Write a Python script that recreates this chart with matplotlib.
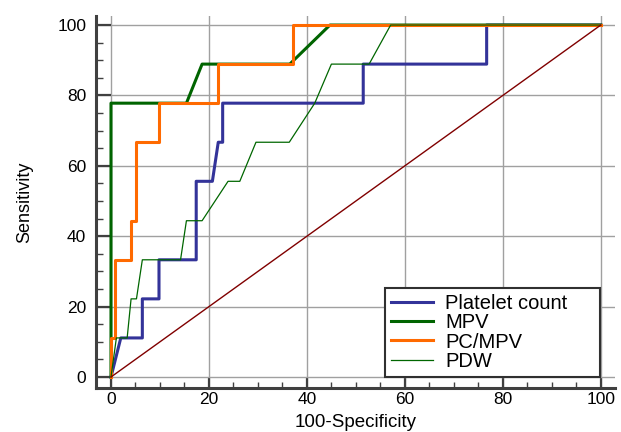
import matplotlib
matplotlib.use("Agg")
import matplotlib.pyplot as plt
from matplotlib.ticker import MultipleLocator

# =============================================================================
# ROC curve data
# =============================================================================

platelet_x = [0, 2.0, 6.4, 6.4, 9.8, 9.8, 17.4, 17.4, 20.7, 21.9, 22.8, 22.8,
              51.5, 51.5, 76.7, 76.7, 100]
platelet_y = [0, 11.1, 11.1, 22.2, 22.2, 33.3, 33.3, 55.6, 55.6, 66.7, 66.7, 77.8,
              77.8, 88.9, 88.9, 100, 100]

mpv_x = [0, 0, 15.4, 18.6, 36.5, 44.7, 100]
mpv_y = [0, 77.8, 77.8, 88.9, 88.9, 100, 100]

pcmpv_x = [0, 0, 0.9, 0.9, 4.1, 4.1, 5.2, 5.2, 9.8, 9.8, 21.9, 21.9, 37.2, 37.2, 100]
pcmpv_y = [0, 11.1, 11.1, 33.3, 33.3, 44.4, 44.4, 66.7, 66.7, 77.8, 77.8, 88.9, 88.9, 100, 100]

pdw_x = [0, 1.1, 3.3, 4.1, 5.2, 6.4, 14.2, 15.4, 18.6, 23.9, 26.3, 29.6,
         36.4, 41.6, 45.0, 52.7, 57.1, 100]
pdw_y = [0, 11.1, 11.1, 22.2, 22.2, 33.3, 33.3, 44.4, 44.4, 55.6, 55.6, 66.7,
         66.7, 77.8, 88.9, 88.9, 100, 100]

diag = [0, 100]

ticks = [0, 20, 40, 60, 80, 100]

# =============================================================================
# Figure
# =============================================================================

plt.rcParams['font.family'] = ['Liberation Sans', 'DejaVu Sans']

fig = plt.figure(figsize=(6.21, 4.32), dpi=100)
ax = fig.add_axes([0.1546, 0.1019, 0.8357, 0.861])

ax.plot(platelet_x, platelet_y, color='#333399', linewidth=2.2, label='Platelet count')
ax.plot(mpv_x, mpv_y, color='#006400', linewidth=2.2, label='MPV')
ax.plot(pcmpv_x, pcmpv_y, color='#ff6a00', linewidth=2.2, label='PC/MPV')
ax.plot(pdw_x, pdw_y, color='#006600', linewidth=0.9, label='PDW')
ax.plot(diag, diag, color='#800000', linewidth=1.0)

ax.set_xlim(-3.06, 102.9)
ax.set_ylim(-3.12, 102.56)

ax.set_xticks(ticks)
ax.set_yticks(ticks)
ax.xaxis.set_minor_locator(MultipleLocator(5))
ax.yaxis.set_minor_locator(MultipleLocator(5))

ax.tick_params(axis='x', which='major', direction='in', length=8, width=1.6,
               color='#404040', labelsize=12.5, pad=3)
ax.tick_params(axis='x', which='minor', direction='in', length=4, width=1.0,
               color='#404040')
ax.tick_params(axis='y', which='major', direction='in', length=10.5, width=1.6,
               color='#404040', labelsize=12.5, pad=7)
ax.tick_params(axis='y', which='minor', direction='in', length=5, width=1.0,
               color='#404040')

for side in ['top', 'right']:
    ax.spines[side].set_visible(False)
for side in ['left', 'bottom']:
    ax.spines[side].set_color('#404040')
    ax.spines[side].set_linewidth(2.2)

ax.grid(True, which='major', color='#a0a0a0', linewidth=1.0)
ax.set_axisbelow(True)

ax.set_xlabel('100-Specificity', fontsize=13.5, labelpad=5)
ax.set_ylabel('Sensitivity', fontsize=13, labelpad=17)

leg = ax.legend(loc='lower left', bbox_to_anchor=(0.557, 0.0296, 0.414, 0.24),
                mode='expand', borderaxespad=0, fancybox=False, framealpha=1,
                edgecolor='#303030', fontsize=14.5, labelspacing=0.02,
                borderpad=0.3, handlelength=2.1, handletextpad=0.6)
leg.get_frame().set_linewidth(1.5)

plt.savefig('out.png', dpi=100)
plt.close()
